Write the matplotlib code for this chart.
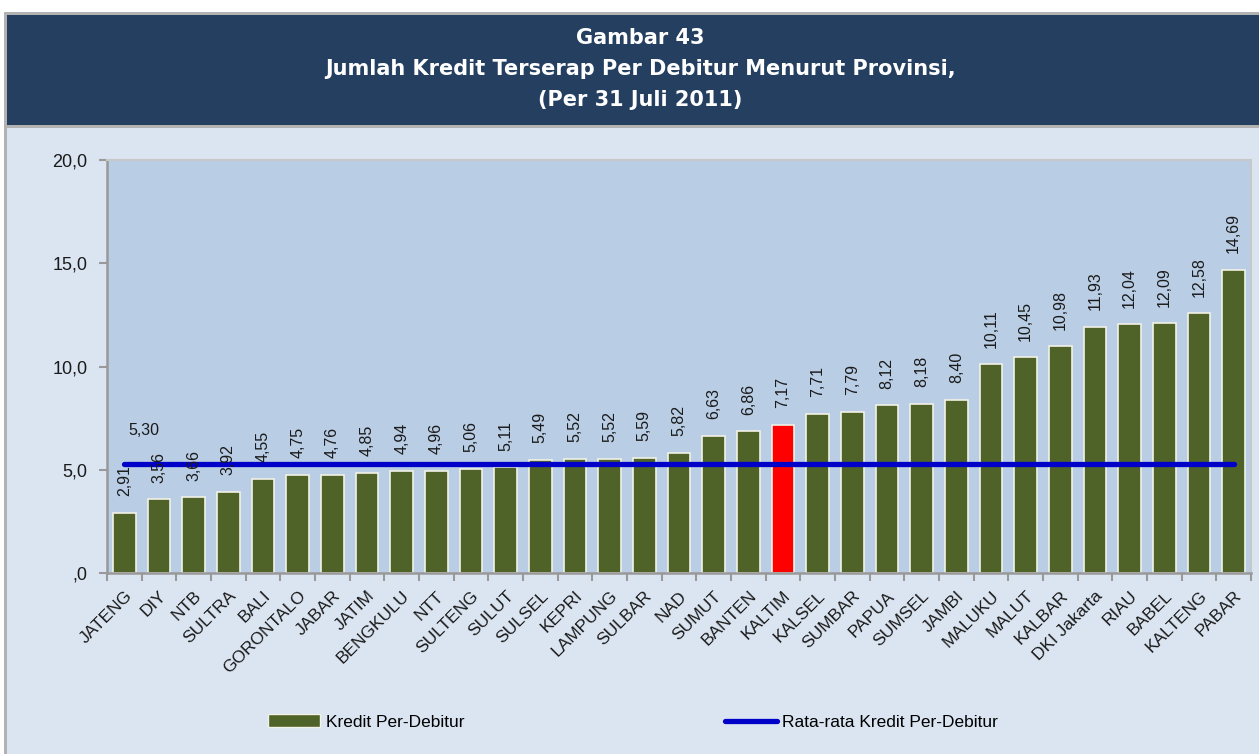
import numpy as np
import matplotlib.pyplot as plt
import matplotlib.transforms as mtransforms
from matplotlib.patches import Rectangle, Patch
from matplotlib.lines import Line2D

plt.rcParams['font.family'] = ['Liberation Sans', 'DejaVu Sans']

provinsi = ['JATENG', 'DIY', 'NTB', 'SULTRA', 'BALI', 'GORONTALO', 'JABAR', 'JATIM',
            'BENGKULU', 'NTT', 'SULTENG', 'SULUT', 'SULSEL', 'KEPRI', 'LAMPUNG', 'SULBAR',
            'NAD', 'SUMUT', 'BANTEN', 'KALTIM', 'KALSEL', 'SUMBAR', 'PAPUA', 'SUMSEL',
            'JAMBI', 'MALUKU', 'MALUT', 'KALBAR', 'DKI Jakarta', 'RIAU', 'BABEL',
            'KALTENG', 'PABAR']
kredit = [2.91, 3.56, 3.66, 3.92, 4.55, 4.75, 4.76, 4.85, 4.94, 4.96, 5.06, 5.11,
          5.49, 5.52, 5.52, 5.59, 5.82, 6.63, 6.86, 7.17, 7.71, 7.79, 8.12, 8.18,
          8.40, 10.11, 10.45, 10.98, 11.93, 12.04, 12.09, 12.58, 14.69]
rata_rata = 5.30
sorot = 'KALTIM'

yticks = [0, 5, 10, 15, 20]
ytick_lbl = [',0', '5,0', '10,0', '15,0', '20,0']

navy = '#243F60'
panel = '#DBE5F1'
plotbg = '#B9CDE5'
hijau = '#4F6228'
biru = '#0000C8'

W, H = 1259, 754
fig = plt.figure(figsize=(W / 100, H / 100), dpi=100)
fig.patch.set_facecolor('white')

# frame: gray border, navy header, light panel (behind the axes)
fig.patches.append(Rectangle((4 / W, 0), 1, 1 - 12 / H, transform=fig.transFigure,
                             facecolor='#B2B2B2', edgecolor='none', zorder=-10))
fig.patches.append(Rectangle((7 / W, 0), 1, 1 - 128 / H, transform=fig.transFigure,
                             facecolor=panel, edgecolor='none', zorder=-9))
fig.patches.append(Rectangle((7 / W, 1 - 125 / H), 1, 110 / H, transform=fig.transFigure,
                             facecolor=navy, edgecolor='none', zorder=-9))

judul = ['Gambar 43', 'Jumlah Kredit Terserap Per Debitur Menurut Provinsi,',
         '(Per 31 Juli 2011)']
for i, t in enumerate(judul):
    fig.text(640 / W, 1 - (38 + 31 * i) / H, t, ha='center', va='center',
             color='white', fontsize=15, fontweight='bold', family='DejaVu Sans')

ax = fig.add_axes([107 / W, 1 - 573 / H, (1251 - 107) / W, (573 - 160) / H])
ax.set_facecolor(plotbg)

x = np.arange(len(provinsi))
warna = ['#FF0000' if p == sorot else hijau for p in provinsi]
bars = ax.bar(x, kredit, width=0.66, color=warna, edgecolor='#F2F2E6', linewidth=1.2,
              zorder=2)

for xi, v in zip(x, kredit):
    ax.annotate(f'{v:.2f}'.replace('.', ','), (xi, v), xytext=(0, 12),
                textcoords='offset points', rotation=90, ha='center', va='bottom',
                fontsize=11.5, color='#1A1A1A', zorder=4)

ax.plot([x[0], x[-1]], [rata_rata, rata_rata], color=biru, linewidth=3.8,
        solid_capstyle='round', zorder=3)
ax.annotate(f'{rata_rata:.2f}'.replace('.', ','), (x[0], rata_rata), xytext=(14, 24),
            textcoords='offset points', ha='center', va='center', fontsize=11.5,
            color='#1A1A1A', zorder=4)

ax.set_xlim(-0.5, len(provinsi) - 0.5)
ax.set_ylim(0, 20)
ax.set_yticks(yticks)
ax.set_yticklabels(ytick_lbl, fontsize=13, color='#1A1A1A')
ax.set_xticks(x)
ax.set_xticklabels(provinsi, rotation=45, ha='right', rotation_mode='anchor',
                   fontsize=12.5, color='#1A1A1A')
geser = mtransforms.ScaledTranslation(-4 / 100, 0, fig.dpi_scale_trans)
for lbl in ax.get_xticklabels():
    lbl.set_transform(lbl.get_transform() + geser)
ax.set_xticks(np.arange(-0.5, len(provinsi)), minor=True)
ax.tick_params(axis='x', which='major', length=0, pad=11)
ax.tick_params(axis='x', which='minor', length=6, color='#999999', width=1.5)
ax.tick_params(axis='y', length=6, color='#999999', width=1.5, pad=8)

for s in ['left', 'bottom']:
    ax.spines[s].set_color('#999999')
    ax.spines[s].set_linewidth(1.8)
for s in ['top', 'right']:
    ax.spines[s].set_color('#C8C8C8')
    ax.spines[s].set_linewidth(1.5)

handles = [Patch(facecolor=hijau, edgecolor='#F2F2E6', linewidth=1),
           Line2D([0], [0], color=biru, linewidth=3.8, solid_capstyle='round')]
fig.legend(handles, ['Kredit Per-Debitur', 'Rata-rata Kredit Per-Debitur'],
           loc='center', bbox_to_anchor=(633 / W, 1 - 722 / H), ncol=2,
           frameon=False, fontsize=12.5, handlelength=3, handletextpad=0.3,
           columnspacing=15)

fig.savefig('out.png', dpi=100, facecolor=fig.get_facecolor())
